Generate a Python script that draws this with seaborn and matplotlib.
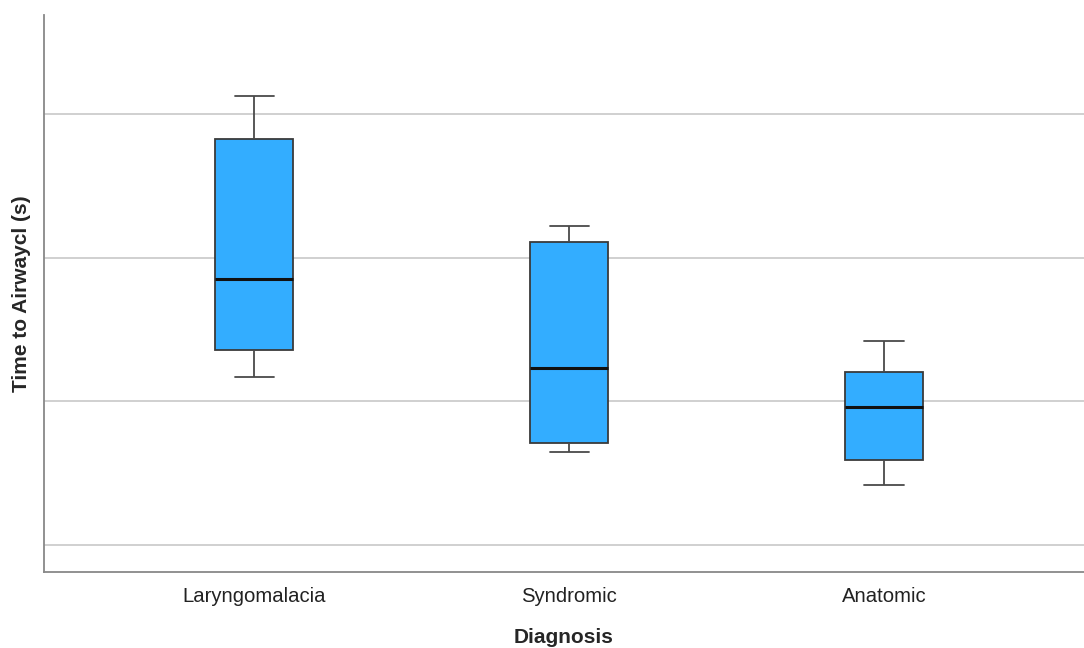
import numpy as np
import pandas as pd
import matplotlib
matplotlib.use("Agg")
import matplotlib.pyplot as plt
import seaborn as sns

# five-number summaries (min, q1, median, q3, max)
diagnoses = ["Laryngomalacia", "Syndromic", "Anatomic"]
laryngomalacia = [117.1, 135.7, 185.1, 282.4, 312.5]
syndromic = [64.5, 70.8, 123.0, 210.9, 222.2]
anatomic = [42.0, 59.2, 95.8, 120.2, 142.0]
grid_levels = [0, 100, 200, 300]

df = pd.DataFrame({
    "Diagnosis": np.repeat(diagnoses, 5),
    "Time": laryngomalacia + syndromic + anatomic,
})

sns.set_style("white")
plt.rcParams["font.family"] = ["Liberation Sans", "DejaVu Sans"]

fig = plt.figure(figsize=(10.84, 6.48), dpi=100)
ax = fig.add_axes([0.0406, 0.1173, 0.9594, 0.8596])

sns.boxplot(data=df, x="Diagnosis", y="Time", order=diagnoses, ax=ax,
            color="#33adff", saturation=1, width=0.248, whis=np.inf,
            linewidth=1.3, linecolor="#4a4a4a",
            medianprops={"color": "#111111", "linewidth": 2.2},
            boxprops={"edgecolor": "#3a3a3a"})

ax.set_yticks(grid_levels)
ax.set_yticklabels([])
ax.tick_params(axis="y", length=0)
ax.tick_params(axis="x", length=0, labelsize=14.6, labelcolor="#222222", pad=11)
ax.yaxis.grid(True, color="#c4c4c4", linewidth=1.1)
ax.set_axisbelow(True)
ax.set_ylim(-18.8, 368.9)
ax.set_xlim(-0.667, 2.635)

for side in ["top", "right"]:
    ax.spines[side].set_visible(False)
for side in ["left", "bottom"]:
    ax.spines[side].set_color("#888888")
    ax.spines[side].set_linewidth(1.3)

ax.set_xlabel("Diagnosis", fontsize=15, fontweight="bold", labelpad=16)
ax.set_ylabel("Time to Airwaycl (s)", fontsize=15, fontweight="bold", labelpad=6)

fig.savefig("out.png", dpi=100)
